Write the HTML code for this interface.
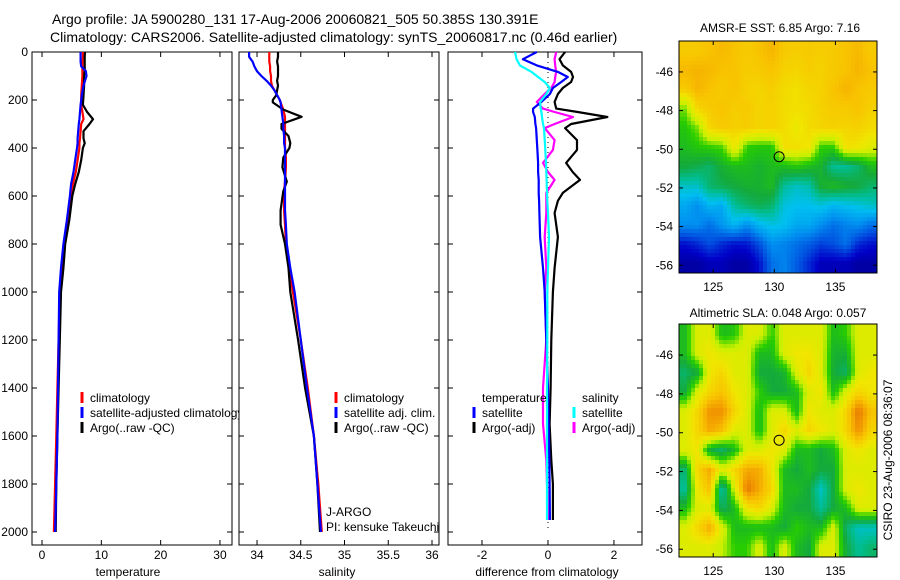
<!DOCTYPE html>
<html><head><meta charset="utf-8"><style>
html,body{margin:0;padding:0;background:#fff;}
svg{display:block;font-family:"Liberation Sans",sans-serif;}
</style></head><body>
<svg id="fig" width="900" height="580" viewBox="0 0 900 580" xmlns="http://www.w3.org/2000/svg">
<defs>
<clipPath id="clipMap1"><rect x="679" y="41" width="198" height="232"/></clipPath>
<clipPath id="clipMap2"><rect x="679" y="324" width="198" height="233"/></clipPath>
</defs>
<text x="52" y="24" font-size="14">Argo profile: JA 5900280_131 17-Aug-2006 20060821_505 50.385S 130.391E</text>
<text x="50" y="42" font-size="14">Climatology: CARS2006. Satellite-adjusted climatology: synTS_20060817.nc (0.46d earlier)</text>
<text x="780" y="32" font-size="12" text-anchor="middle">AMSR-E SST: 6.85 Argo: 7.16</text>
<text x="778" y="317" font-size="12" text-anchor="middle">Altimetric SLA: 0.048 Argo: 0.057</text>
<text transform="translate(892,460) rotate(-90)" font-size="12" text-anchor="middle">CSIRO 23-Aug-2006 08:36:07</text>
</svg>
<script>
// ---- profile data ----
const TD = [0,20,40,60,80,100,140,180,220,250,280,300,330,360,380,400,450,500,550,600,700,800,900,1000,1200,1400,1600,1800,2000];
const argoT = [7.25,7.2,7.2,7.2,7.2,7.1,7.1,7.0,6.9,7.6,8.6,8.0,7.0,7.0,7.2,6.9,6.6,6.2,5.6,5.1,4.6,3.9,3.6,3.2,3.0,2.8,2.6,2.4,2.3];
const climT = [6.9,6.9,6.8,6.8,6.8,6.8,6.7,6.6,6.6,6.8,7.0,6.6,6.5,6.4,6.3,6.3,6.0,5.7,5.2,4.9,4.3,3.7,3.3,3.0,2.8,2.6,2.4,2.2,2.0];
const satT = [6.5,6.5,6.5,6.6,7.4,7.5,7.0,6.7,6.5,6.4,6.3,6.2,6.1,6.0,6.0,5.9,5.6,5.3,4.9,4.7,4.2,3.6,3.2,2.9,2.8,2.7,2.6,2.4,2.2];
const SD = [0,20,40,60,80,100,120,140,160,180,200,210,240,270,300,320,350,380,400,440,480,540,580,660,720,800,900,1000,1200,1400,1600,1800,2000];
const argoS = [34.24,34.24,34.23,34.24,34.24,34.24,34.23,34.24,34.23,34.22,34.18,34.18,34.3,34.51,34.28,34.28,34.36,34.38,34.37,34.3,34.29,34.34,34.30,34.27,34.27,34.32,34.36,34.38,34.47,34.55,34.65,34.69,34.72];
const climS = [34.14,34.14,34.14,34.15,34.15,34.16,34.16,34.17,34.2,34.23,34.26,34.27,34.3,34.32,34.32,34.32,34.32,34.32,34.32,34.33,34.33,34.32,34.31,34.31,34.32,34.33,34.37,34.41,34.5,34.58,34.65,34.7,34.74];
const satS = [33.91,33.91,33.95,33.97,34.0,34.05,34.11,34.16,34.2,34.23,34.26,34.27,34.28,34.29,34.3,34.3,34.31,34.31,34.32,34.32,34.32,34.32,34.32,34.32,34.33,34.34,34.38,34.43,34.5,34.57,34.65,34.69,34.73];
const DD = [0,30,56,83,104,125,150,175,208,236,250,271,300,317,367,408,462,500,533,587,620,671,771,900,1000,1200,1400,1550,1700,1800,1950];
const diffTargo = [0.52,0.35,0.45,0.7,0.76,0.7,0.45,0.3,0.2,0.25,0.9,1.8,0.7,0.52,0.88,0.88,0.55,0.75,0.97,0.45,0.3,0.2,0.3,0.2,0.15,0.1,0.08,0.05,0.1,0.15,0.15];
const diffTsat = [-0.34,-0.76,-0.34,0.3,0.6,0.4,0.15,0.06,-0.2,-0.45,-0.45,-0.4,-0.38,-0.36,-0.34,-0.32,-0.3,-0.3,-0.28,-0.28,-0.27,-0.26,-0.24,-0.15,-0.1,-0.05,0,0.02,0.04,0.05,0.06];
const diffSsat = [-1.0,-0.95,-0.85,-0.5,-0.3,-0.1,0.06,-0.05,-0.24,-0.22,-0.2,-0.18,-0.15,-0.12,-0.1,-0.08,-0.06,-0.05,-0.04,-0.03,-0.02,0.0,0.03,0.0,-0.02,-0.02,-0.03,-0.03,-0.03,-0.03,-0.03];
const diffSargo = [0.25,0.2,0.22,0.25,0.22,0.2,0.1,-0.1,-0.34,-0.15,0.2,0.76,0.2,-0.1,0.2,0.15,-0.15,0.0,0.2,-0.05,-0.05,-0.05,-0.1,-0.05,-0.1,-0.05,-0.15,-0.15,-0.05,-0.03,0];
const depthTicks = [0,200,400,600,800,1000,1200,1400,1600,1800,2000];
const tempTicks = [0,10,20,30];
const salTicks = [34,34.5,35,35.5,36];
const diffTicks = [-2,0,2];
const lonTicks = [125,130,135];
const latTicks = [-46,-48,-50,-52,-54,-56];
const floatLon = 130.391;
const floatLat = -50.385;
// ---- map grids (16 cols x 12 rows, colour index) ----
const sstGrid = [
[9.8,9.8,10,10.2,10,9.8,10,10.3,9.8,9.7,9.8,9.7,9.8,10,10.2,9.8],
[10.2,10.3,10.2,10,10,9.7,9.8,10,9.6,9.5,9.7,9.6,9.8,10,10.3,10],
[9.8,10.3,10,9.8,10,9.6,9.5,9.7,9.3,9.2,9.5,9.6,10,10.3,10,9.8],
[7.5,9.5,9.8,10,9.7,9.8,9.5,9.6,9.3,9.2,9.3,9.6,9.8,9.8,10,9.6],
[6.8,7.5,9.5,9.8,9.6,9.7,9.5,9.6,9.3,8.8,9.3,9.5,9.6,9.5,9.6,9.3],
[6.5,6.8,7,7.2,9,7,6.8,6.8,9.2,9.2,9.0,7,7,9.2,9.0,8.5],
[6,5.8,5.5,6.2,6.5,6.5,6.2,6.5,6.5,6.8,6.5,6.2,5,5,5.5,6.5],
[4.5,4.5,5.5,5.8,6,6.2,6.2,6.5,5,4.5,4.8,6.2,6.5,6.2,6,5.5],
[3.5,3,3.8,3.5,5,5.5,5.8,5.5,4.2,4,4,4.2,3.8,4,4.2,4.5],
[3,3,2.5,3.2,3.8,3,3.8,4.2,4,3.5,3.5,3,2.5,2.8,3,2.5],
[1.2,1.5,2,1.5,1.2,1.3,2,3,2.8,2.5,2.2,1.8,2,2.5,1.5,1.2],
[0.5,0.5,0.8,0.8,0.5,0.5,1.2,2.5,2.8,2.2,1.5,0.8,0.8,0.8,0.5,0.5]];
const slaGrid = [
[6.5,8.5,8.5,6.5,6.8,8.5,8.5,7,8.5,8.5,8.5,8.5,6.5,7,8.5,8.5],
[6.5,8.5,9,8.5,8.5,8.5,6.5,6.5,8.5,9,9,8.5,6.2,6.2,8.5,8.5],
[5.5,6,9,9.5,8.5,8.5,6,6,6.2,8.5,9.5,8.5,6,5.5,8.5,9],
[6,8.5,9.5,10,9,8.5,7,6,6,6.5,8.5,9,6.5,8.5,9.5,9],
[8.5,9.5,11,11,9.5,8.5,6.5,8.5,8.5,6.5,9,8.5,8.5,9.5,11.5,10],
[8.5,9.5,10.5,10,8.5,8.5,6.5,8.5,9.5,8.5,9.5,9,8.5,9.5,11,9.5],
[8.5,9,6,5.5,6.5,8.5,8.5,9,8.5,6.5,6.5,6,6.5,8.5,9,8.5],
[5.5,9.5,10.5,8.5,9.5,10.5,10.5,9,6.5,6,6.5,6,6,8.5,8.5,8.5],
[5,9,10,4.5,8.5,11.5,10.5,9.5,6.5,6.5,6,4.5,6,8.5,9,8.5],
[6.5,8.5,8.5,5.5,6.5,9,9.5,8.5,6.5,6,6,5,6,6.5,8.5,8.5],
[8.5,9.5,10.5,8.5,6.5,6.5,6.5,6.5,6,7,6.5,6.5,8.5,5.5,4.5,4.5],
[8.5,8.5,8.5,8,7,7,8.5,6.5,8.5,6.5,6,8.5,8.5,6,5,5.5]];

const NS='http://www.w3.org/2000/svg';
const svg=document.getElementById('fig');
function mk(tag,attrs,parent){const e=document.createElementNS(NS,tag);for(const k in attrs)e.setAttribute(k,attrs[k]);(parent||svg).appendChild(e);return e;}
const palette=[[0,0,127],[0,0,200],[0,80,224],[0,144,240],[0,192,240],[0,190,150],[20,170,60],[40,205,0],[200,240,0],[240,230,0],[248,195,0],[240,145,0],[208,96,0]];
function col(v){v=Math.max(0,Math.min(12,v));const i=Math.min(11,Math.floor(v)),f=v-i;const a=palette[i],b=palette[i+1];return 'rgb('+a.map((c,k)=>Math.round(c+(b[k]-c)*f)).join(',')+')';}

const Y0=52, PY=0.24, YB=545;
function yD(d){return Y0+d*PY;}
const panels=[
 {name:'temperature',x0:32,x1:232,vmin:-1.69,vmax:32.03,ticks:tempTicks,label:'temperature',lx:128},
 {name:'salinity',x0:239,x1:439,vmin:33.794,vmax:36.08,ticks:salTicks,label:'salinity',lx:337},
 {name:'difference',x0:448,x1:642,vmin:-3.03,vmax:2.85,ticks:diffTicks,label:'difference from climatology',lx:547}];
function xf(p){return v=>p.x0+(v-p.vmin)/(p.vmax-p.vmin)*(p.x1-p.x0);}

panels.forEach((p,pi)=>{
  const g=mk('g',{});
  
  
  const bg=mk('rect',{x:p.x0,y:Y0,width:p.x1-p.x0,height:YB-Y0,fill:'#fff',stroke:'#000','stroke-width':1},g);
  
  
  const X=xf(p);
  p.ticks.forEach(t=>{
    const x=X(t);
    mk('line',{x1:x,x2:x,y1:Y0,y2:Y0+5,stroke:'#000'},g);
    mk('line',{x1:x,x2:x,y1:YB,y2:YB-5,stroke:'#000'},g);
    const tl=mk('text',{x:x,y:559,'font-size':12,'text-anchor':'middle'},g);
    tl.textContent=String(t);
    
    
  });
  depthTicks.forEach(d=>{
    const y=yD(d);
    mk('line',{x1:p.x0,x2:p.x0+5,y1:y,y2:y,stroke:'#000'},g);
    mk('line',{x1:p.x1,x2:p.x1-5,y1:y,y2:y,stroke:'#000'},g);
    if(pi===0){
      const tl=mk('text',{x:28,y:y+4,'font-size':12,'text-anchor':'end'},g);
      tl.textContent=String(d);
      
      
    }
  });
  const al=mk('text',{x:p.lx,y:576,'font-size':12,'text-anchor':'middle'},g);
  al.textContent=p.label;
  
  
  p.g=g;p.X=X;
});

function series(p,depths,vals,color,name){
  const pts=depths.map((d,i)=>p.X(vals[i]).toFixed(1)+','+yD(d).toFixed(1)).join(' ');
  const pl=mk('polyline',{points:pts,fill:'none',stroke:color,'stroke-width':2.2,'stroke-linejoin':'round'},p.g);
  
  
}
series(panels[0],TD,climT,'#f00','temp-climatology-line');
series(panels[0],TD,argoT,'#000','temp-argo-line');
series(panels[0],TD,satT,'#00f','temp-satellite-line');
series(panels[1],SD,climS,'#f00','sal-climatology-line');
series(panels[1],SD,argoS,'#000','sal-argo-line');
series(panels[1],SD,satS,'#00f','sal-satellite-line');
const zx=panels[2].X(0);
const zl=mk('line',{x1:zx,x2:zx,y1:Y0,y2:yD(2000),stroke:'#000','stroke-dasharray':'1,4'},panels[2].g);


series(panels[2],DD,diffTargo,'#000','diff-temp-argo-line');
series(panels[2],DD,diffSargo,'#f0f','diff-sal-argo-line');
series(panels[2],DD,diffTsat,'#00f','diff-temp-satellite-line');
series(panels[2],DD,diffSsat,'#0ff','diff-sal-satellite-line');

function legend(g,x,y,color,text,name){
  if(color){const m=mk('line',{x1:x-8,x2:x-8,y1:y-10,y2:y+1,stroke:color,'stroke-width':3},g);
    
    }
  const t=mk('text',{x:x,y:y,'font-size':12},g);
  t.textContent=text;
  
  
}
legend(panels[0].g,90,402,'#f00','climatology','legend-climatology');
legend(panels[0].g,90,417,'#00f','satellite-adjusted climatology','legend-satellite-adjusted');
legend(panels[0].g,90,432,'#000','Argo(..raw -QC)','legend-argo');
panels[1].g.parentNode.appendChild(panels[1].g);
legend(panels[1].g,344,402,'#f00','climatology','legend-sal-climatology');
legend(panels[1].g,344,417,'#00f','satellite adj. clim.','legend-sal-satellite');
legend(panels[1].g,344,432,'#000','Argo(..raw -QC)','legend-sal-argo');
legend(panels[1].g,326,516,null,'J-ARGO','project-label');
legend(panels[1].g,326,531,null,'PI: kensuke Takeuchi','pi-label');
legend(panels[2].g,482,402,null,'temperature','legend-temperature-heading');
legend(panels[2].g,482,417,'#00f','satellite','legend-temp-satellite');
legend(panels[2].g,482,432,'#000','Argo(-adj)','legend-temp-argo');
legend(panels[2].g,582,402,null,'salinity','legend-salinity-heading');
legend(panels[2].g,582,417,'#0ff','satellite','legend-sal-satellite-diff');
legend(panels[2].g,582,432,'#f0f','Argo(-adj)','legend-sal-argo-diff');

const maps=[
 {name:'sst-map',grid:sstGrid,x0:679,x1:877,y0:41,y1:273,clip:'clipMap1'},
 {name:'sla-map',grid:slaGrid,x0:679,x1:877,y0:324,y1:557,clip:'clipMap2'}];
const LON0=122.2,LON1=138.4,LAT0=-44.4,LAT1=-56.4;
function sample(grid,u,v){ // u,v in cell-centre coords
  const R=grid.length,C=grid[0].length;
  u=Math.max(0,Math.min(C-1,u));v=Math.max(0,Math.min(R-1,v));
  const c0=Math.min(C-2,Math.floor(u)),r0=Math.min(R-2,Math.floor(v));
  const fu=u-c0,fv=v-r0;
  const a=grid[r0][c0]*(1-fu)+grid[r0][c0+1]*fu;
  const b=grid[r0+1][c0]*(1-fu)+grid[r0+1][c0+1]*fu;
  return a*(1-fv)+b*fv;
}
maps.forEach(m=>{
  const g=mk('g',{});
  
  
  const xL=lon=>m.x0+(lon-LON0)/(LON1-LON0)*(m.x1-m.x0);
  const yL=lat=>m.y0+(lat-LAT0)/(LAT1-LAT0)*(m.y1-m.y0);
  const cg=mk('g',{'clip-path':'url(#'+m.clip+')'},g);
  const rows=m.grid.length,cols=m.grid[0].length;
  const cw=(m.x1-m.x0)/cols,ch=(m.y1-m.y0)/rows;
  const S=4;
  for(let y=m.y0;y<m.y1;y+=S){
    for(let x=m.x0;x<m.x1;x+=S){
      const u=(x+S/2-m.x0)/cw-0.5, v=(y+S/2-m.y0)/ch-0.5;
      const cell=mk('rect',{x:x,y:y,width:S+0.5,height:S+0.5,fill:col(sample(m.grid,u,v))},cg);
      
      
    }
  }
  const fr=mk('rect',{x:m.x0,y:m.y0,width:m.x1-m.x0,height:m.y1-m.y0,fill:'none',stroke:'#000'},g);
  
  
  lonTicks.forEach(t=>{
    const x=xL(t);
    mk('line',{x1:x,x2:x,y1:m.y0,y2:m.y0+4,stroke:'#000'},g);
    mk('line',{x1:x,x2:x,y1:m.y1,y2:m.y1-4,stroke:'#000'},g);
    const tl=mk('text',{x:x,y:m.y1+18,'font-size':12,'text-anchor':'middle'},g);
    tl.textContent=String(t);
    
    
  });
  latTicks.forEach(t=>{
    const y=yL(t);
    mk('line',{x1:m.x0,x2:m.x0+4,y1:y,y2:y,stroke:'#000'},g);
    mk('line',{x1:m.x1,x2:m.x1-4,y1:y,y2:y,stroke:'#000'},g);
    const tl=mk('text',{x:m.x0-6,y:y+4,'font-size':12,'text-anchor':'end'},g);
    tl.textContent=String(t);
    
    
  });
  const mkCircle=mk('circle',{cx:xL(floatLon),cy:yL(floatLat),r:5,fill:'none',stroke:'#000','stroke-width':1},g);
  
  
});
</script>
</body></html>
